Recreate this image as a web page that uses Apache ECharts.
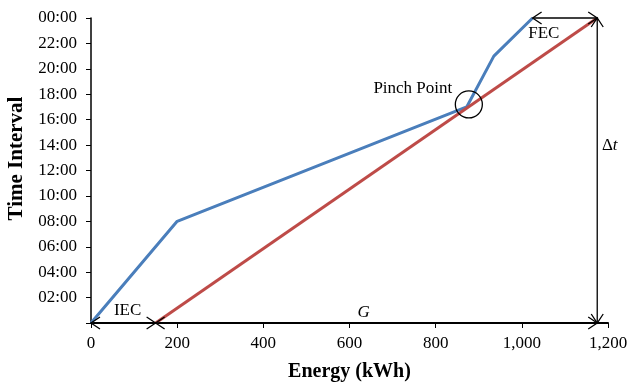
<!DOCTYPE html>
<html>
<head>
<meta charset="utf-8">
<script src="https://cdn.jsdelivr.net/npm/echarts@6/dist/echarts.min.js"></script>
<style>
  html, body { margin: 0; padding: 0; background: #fff; }
  #chart { width: 628px; height: 385px; }
</style>
</head>
<body>
<div id="chart"></div>
<script>
// Cumulative energy demand (kWh) against time of day (hours)
const demandCurve = [[0, 0], [200, 8], [872, 17], [935, 21], [1025, 24]];
// Constant generation line
const generationLine = [[150, 0], [1175, 24]];

// Axis ranges
const energyTicks = [0, 200, 400, 600, 800, 1000, 1200];
const hourTicks = [0, 2, 4, 6, 8, 10, 12, 14, 16, 18, 20, 22, 24];

// Dimension arrows: x1, y1, x2, y2
const dimensionArrows = [
  [0, 0, 150, 0],        // IEC
  [150, 0, 1175, 0],     // G
  [1025, 24, 1175, 24],  // FEC
  [1175, 0, 1175, 24]    // Δt
];

// Text annotations: text, x, y
const annotations = [
  ['IEC', 85, 1.0],
  ['G', 633, 0.8],
  ['FEC', 1051, 22.8],
  ['Pinch Point', 747, 18.45],
  ['Δt', 1204, 14.0]
];

// Pinch point marker (x, y)
const pinchPoint = [[877, 17.2]];

const serif = '"Liberation Serif", "Times New Roman", serif';
const chart = echarts.init(document.getElementById('chart'));

function chevron(p, q) {
  // open arrowhead at p, pointing away from q
  const dx = p[0] - q[0], dy = p[1] - q[1];
  const len = Math.hypot(dx, dy) || 1;
  const ux = dx / len, uy = dy / len;
  const L = 9, W = 6;
  const bx = p[0] - ux * L, by = p[1] - uy * L;
  return {
    type: 'polyline',
    shape: { points: [[bx - uy * W, by + ux * W], p, [bx + uy * W, by - ux * W]] },
    style: { stroke: '#000', lineWidth: 1.3, fill: null }
  };
}

function labelText(t) {
  if (t === 'G') return '{i|G}';
  if (t === 'Δt') return 'Δ{i|t}';
  return t;
}

chart.setOption({
  animation: false,
  backgroundColor: '#fff',
  grid: { left: 91, right: 20, top: 18, bottom: 62, containLabel: false, outerBoundsMode: 'none' },
  xAxis: {
    type: 'value',
    min: energyTicks[0],
    max: energyTicks[energyTicks.length - 1],
    interval: energyTicks[1] - energyTicks[0],
    name: 'Energy (kWh)',
    nameLocation: 'middle',
    nameGap: 39,
    nameTextStyle: { fontFamily: serif, fontWeight: 'bold', fontSize: 20, color: '#000' },
    axisLine: { lineStyle: { color: '#000', width: 2 } },
    axisTick: { show: true, length: 5, lineStyle: { color: '#000', width: 1 } },
    axisLabel: {
      fontFamily: serif, fontSize: 17, color: '#000', margin: 12,
      formatter: v => v.toLocaleString('en-US')
    },
    splitLine: { show: false }
  },
  yAxis: {
    type: 'value',
    min: hourTicks[0],
    max: hourTicks[hourTicks.length - 1],
    interval: hourTicks[1] - hourTicks[0],
    name: 'Time Interval',
    nameLocation: 'middle',
    nameGap: 61,
    nameTextStyle: { fontFamily: serif, fontWeight: 'bold', fontSize: 21, color: '#000', padding: [0, 0, 0, 24] },
    axisLine: { show: true, lineStyle: { color: '#000', width: 1.5 } },
    axisTick: { show: true, length: 5, lineStyle: { color: '#000', width: 1 } },
    axisLabel: {
      fontFamily: serif, fontSize: 17, color: '#000', margin: 14,
      formatter: v => v === 0 ? '' : String(v % 24).padStart(2, '0') + ':00'
    },
    splitLine: { show: false }
  },
  series: [
    {
      name: 'Demand',
      type: 'line',
      data: demandCurve,
      symbol: 'none',
      lineStyle: { color: '#4A7EBB', width: 3 },
      z: 2
    },
    {
      name: 'Generation',
      type: 'line',
      data: generationLine,
      symbol: 'none',
      lineStyle: { color: '#BE4B48', width: 3 },
      z: 3
    },
    {
      name: 'Dimensions',
      type: 'custom',
      clip: false,
      z: 4,
      data: dimensionArrows,
      renderItem: (params, api) => {
        const a = api.coord([api.value(0), api.value(1)]);
        const b = api.coord([api.value(2), api.value(3)]);
        return {
          type: 'group',
          children: [
            { type: 'line', shape: { x1: a[0], y1: a[1], x2: b[0], y2: b[1] },
              style: { stroke: '#000', lineWidth: 1.3 } },
            chevron(a, b),
            chevron(b, a)
          ]
        };
      }
    },
    {
      name: 'Pinch',
      type: 'custom',
      clip: false,
      z: 5,
      data: pinchPoint,
      renderItem: (params, api) => {
        const c = api.coord([api.value(0), api.value(1)]);
        return {
          type: 'circle',
          shape: { cx: c[0], cy: c[1], r: 13.5 },
          style: { stroke: '#000', lineWidth: 1.3, fill: null }
        };
      }
    },
    {
      name: 'Labels',
      type: 'custom',
      clip: false,
      z: 6,
      data: annotations.map(a => [a[1], a[2], a[0]]),
      dimensions: ['x', 'y', { name: 'text', type: 'ordinal' }],
      renderItem: (params, api) => {
        const item = annotations[params.dataIndex];
        const p = api.coord([item[1], item[2]]);
        return {
          type: 'text',
          x: p[0], y: p[1],
          style: {
            text: labelText(item[0]),
            fontFamily: serif, fontSize: 17, fill: '#000',
            align: 'center', verticalAlign: 'middle',
            rich: { i: { fontFamily: serif, fontSize: 17, fontStyle: 'italic', fill: '#000' } }
          }
        };
      }
    }
  ]
});
</script>
</body>
</html>
